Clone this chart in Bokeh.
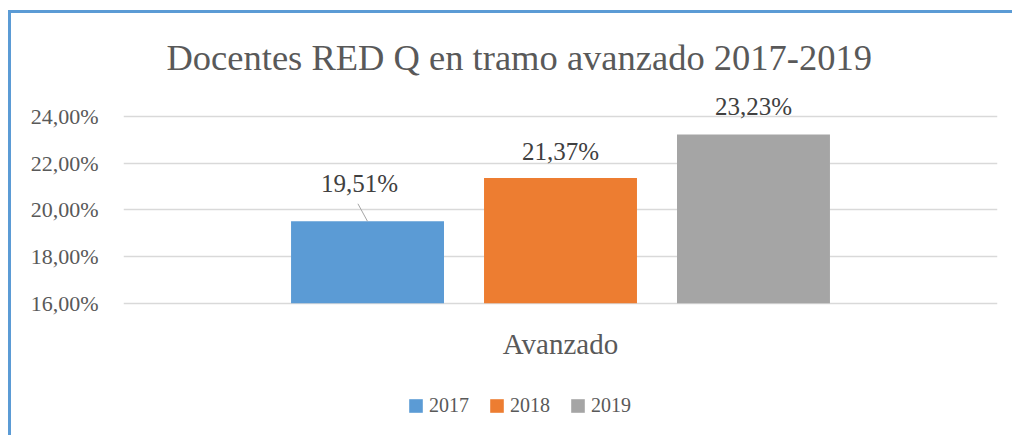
from bokeh.plotting import figure
from bokeh.models import FactorRange, Range1d, FixedTicker, ColumnDataSource, Legend
from bokeh.transform import dodge
from bokeh.core.properties import value
from bokeh.embed import file_html
from bokeh.resources import INLINE

# ---- data ----
title_text = "Docentes RED Q en tramo avanzado 2017-2019"
categories = ["Avanzado"]
years = ["2017", "2018", "2019"]
values = [19.51, 21.37, 23.23]
value_labels = ["19,51%", "21,37%", "23,23%"]
y_ticks = [16, 18, 20, 22, 24]
y_tick_labels = ["16,00%", "18,00%", "20,00%", "22,00%", "24,00%"]
y_min = 16

# ---- styles / layout ----
view_bottom = 10.21   # extra room below the bars for category label and legend
view_top = 25.2
colors = ["#5b9bd5", "#ed7d31", "#a5a5a5"]
FONT = "Liberation Serif"
TXT = "#595959"
bar_step = 0.2208
bar_width = 0.175
label_dx = [-8, 0, 0]
label_dy = [-38, -26, -28]
leaders = [True, False, False]

p = figure(
    x_range=FactorRange(factors=categories),
    y_range=Range1d(view_bottom, view_top),
    width=1004, height=425,
    min_border_left=112, min_border_right=18,
    min_border_top=75, min_border_bottom=0,
    x_axis_location=None,
    output_backend="svg", toolbar_location=None,
    title=title_text,
)
p.styles = {"border-top": "3px solid #5b9bd5", "border-left": "3px solid #5b9bd5",
            "margin-top": "10px", "margin-left": "8px"}
p.outline_line_color = None
p.background_fill_color = "white"
p.border_fill_color = "white"

p.title.text_font = FONT
p.title.text_font_size = "36.5px"
p.title.text_font_style = "normal"
p.title.text_color = TXT
p.title.align = "left"
p.title.offset = 43
p.title.standoff = 22

renderers = []
for i, yr in enumerate(years):
    off = (i - 1) * bar_step
    src = ColumnDataSource(dict(cat=categories, value=[values[i]], label=[value_labels[i]]))
    r = p.vbar(x=dodge("cat", off, range=p.x_range), top="value", bottom=y_min,
               width=bar_width, source=src, fill_color=colors[i], line_color=None)
    renderers.append((yr, [r]))
    p.text(x=dodge("cat", off, range=p.x_range), y="value", text="label", source=src,
           x_offset=label_dx[i], y_offset=label_dy[i],
           text_align="center", text_baseline="middle",
           text_font=value(FONT), text_font_size="25px", text_color="#404040")
    if leaders[i]:
        p.ray(x=dodge("cat", off, range=p.x_range), y="value", source=src,
              length=20, length_units="screen", angle=2.07,
              line_color="#a6a6a6", line_width=1)

# category label (x axis label row)
cat_src = ColumnDataSource(dict(cat=categories, base=[y_min] * len(categories)))
p.text(x="cat", y="base", text="cat", source=cat_src, y_offset=41,
       text_align="center", text_baseline="alphabetic",
       text_font=value(FONT), text_font_size="29px", text_color=TXT)

ticker = FixedTicker(ticks=y_ticks)
p.yaxis.ticker = ticker
p.yaxis.major_label_overrides = {t: l for t, l in zip(y_ticks, y_tick_labels)}
p.yaxis.axis_line_color = None
p.yaxis.major_tick_line_color = None
p.yaxis.minor_tick_line_color = None
p.yaxis.major_label_standoff = 19
p.yaxis.major_label_text_font = FONT
p.yaxis.major_label_text_font_size = "22px"
p.yaxis.major_label_text_color = TXT

p.xgrid.grid_line_color = None
p.ygrid.ticker = ticker
p.ygrid.grid_line_color = "#d9d9d9"
p.ygrid.grid_line_width = 1.5

lg = Legend(items=renderers, location=(284, 21), orientation="horizontal",
            padding=0, margin=0, spacing=19, label_standoff=5,
            glyph_width=17, glyph_height=17, border_line_color=None,
            background_fill_alpha=0, label_text_font=FONT,
            label_text_font_size="20px", label_text_color=TXT)
p.add_layout(lg, "center")

open("out.html", "w").write(file_html(p, INLINE))
